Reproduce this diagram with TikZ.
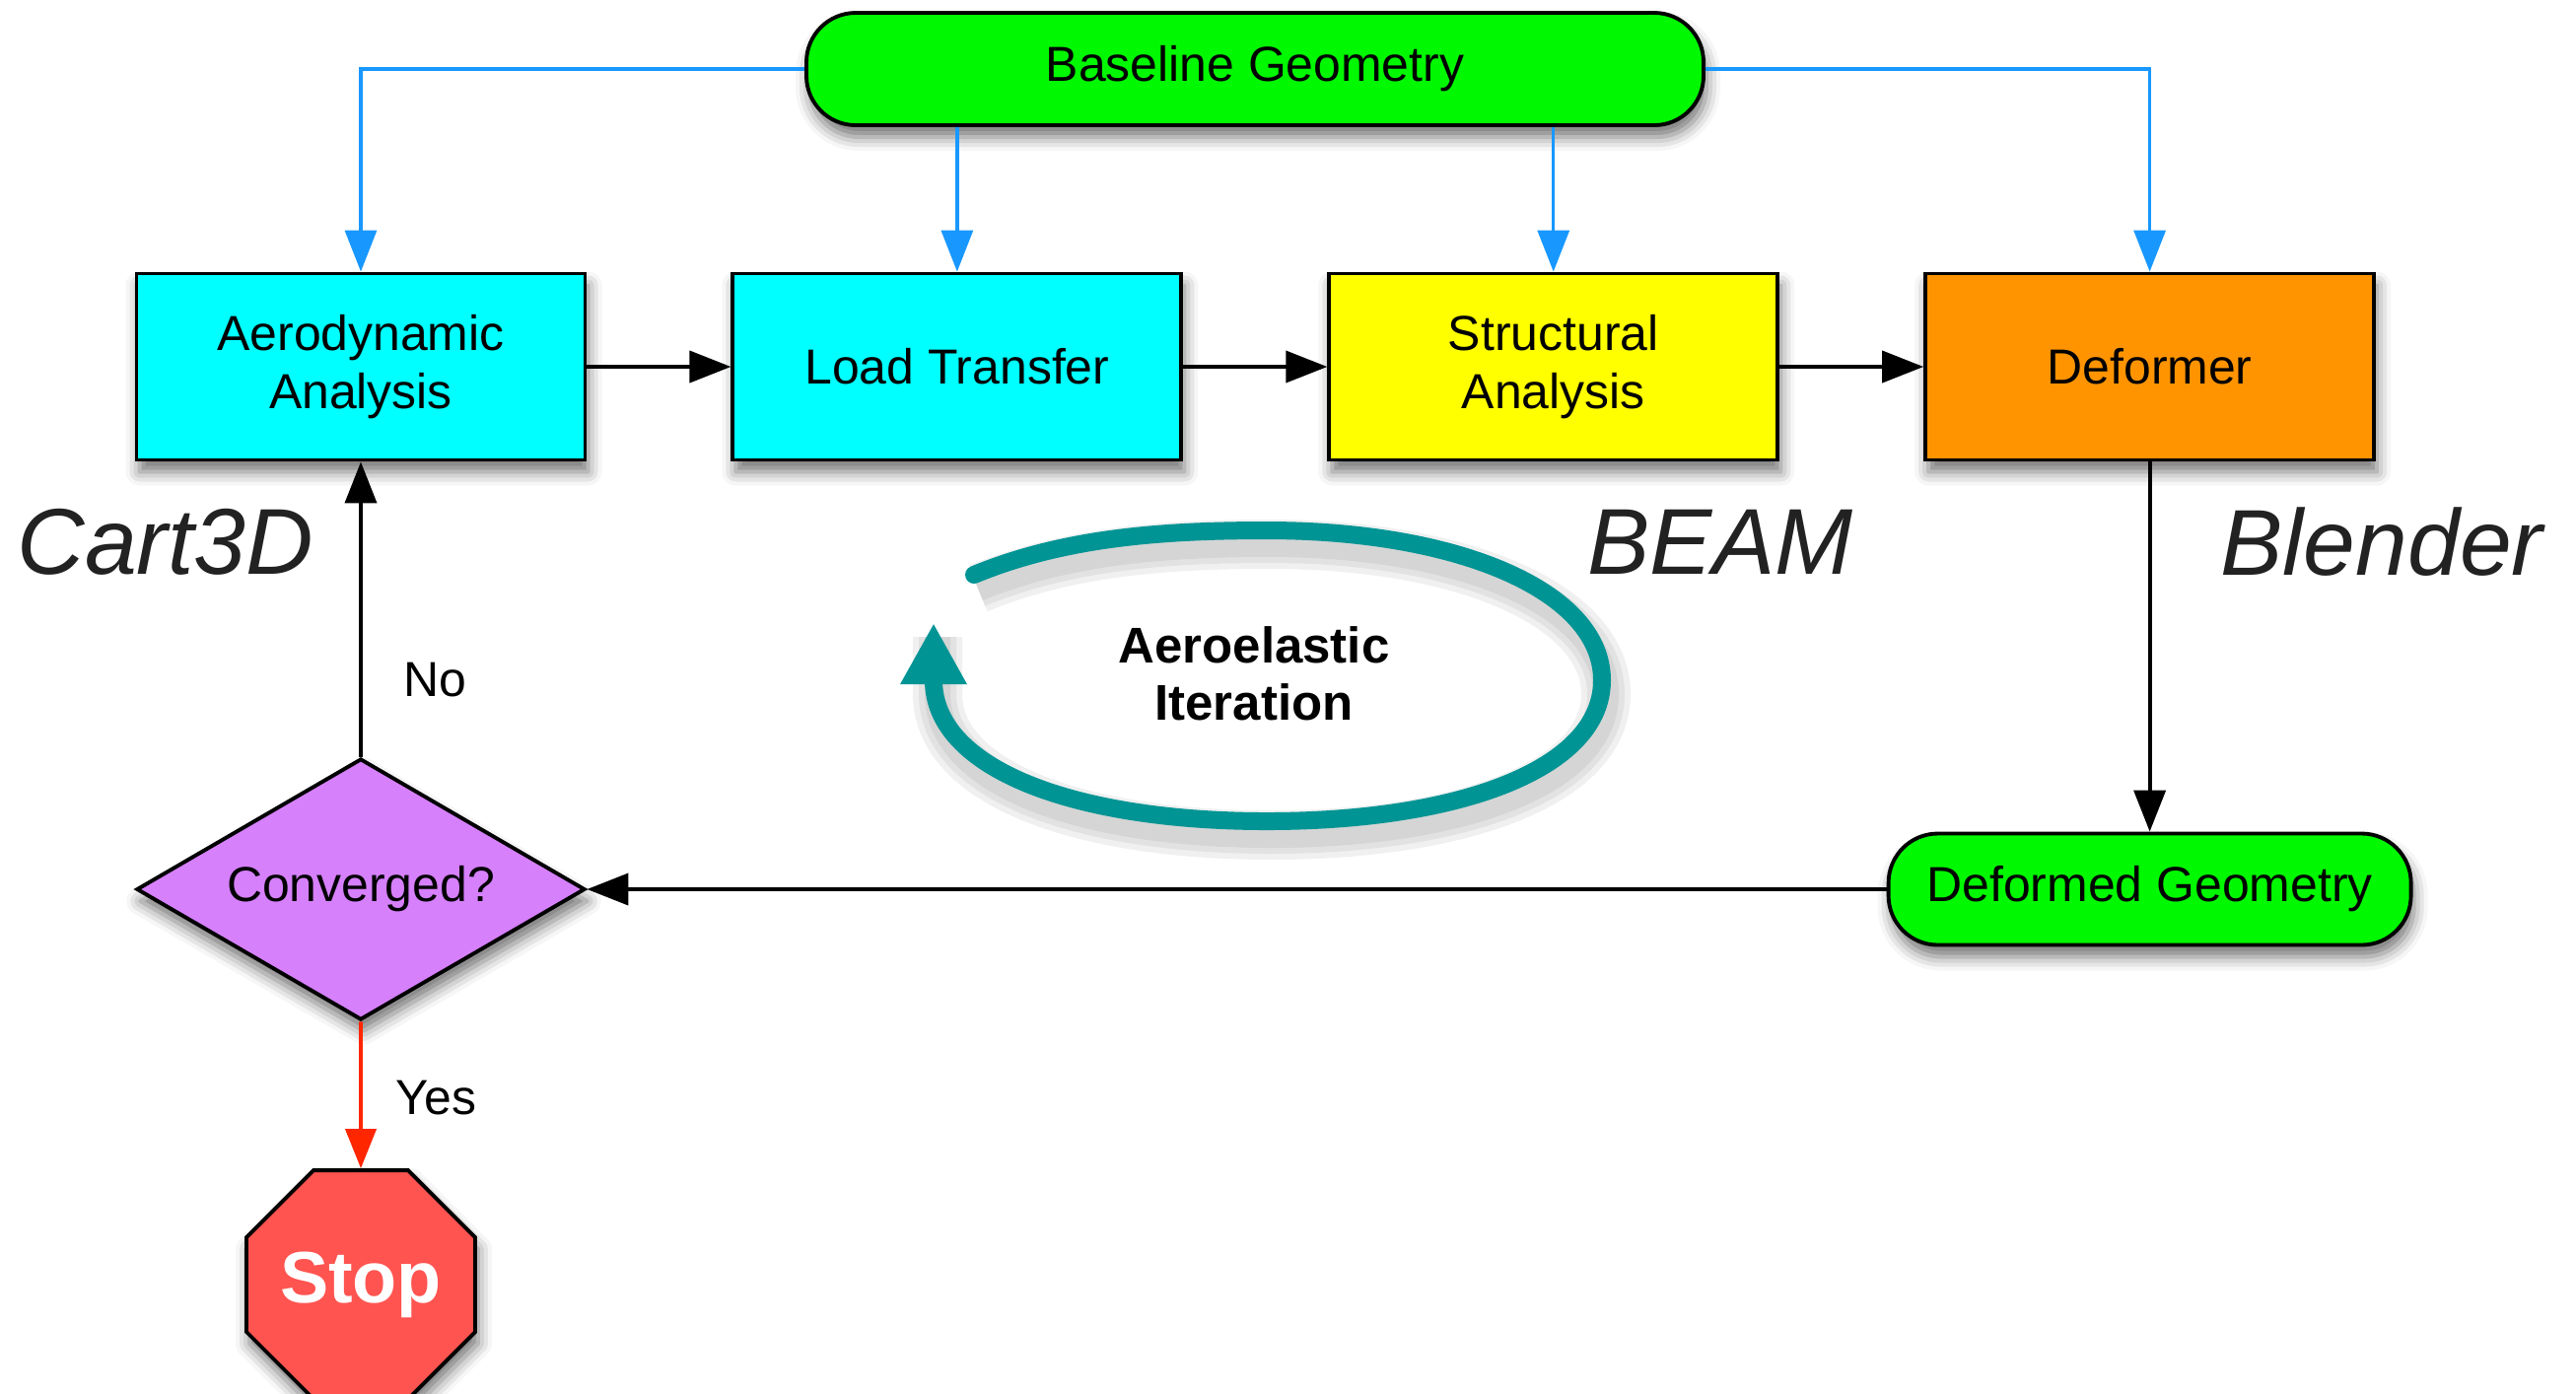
\documentclass[tikz,border=0pt]{standalone}
\usepackage{fontspec}
\setmainfont{Liberation Sans}
\usetikzlibrary{positioning, shapes.geometric, arrows.meta, shadows.blur}

\definecolor{boxcyan}{HTML}{00FFFF}
\definecolor{boxyellow}{HTML}{FFFF00}
\definecolor{boxorange}{HTML}{FF9400}
\definecolor{pillgreen}{HTML}{00F800}
\definecolor{decpurple}{HTML}{D680FC}
\definecolor{stopred}{HTML}{FF5450}
\definecolor{feedblue}{HTML}{1898FF}
\definecolor{yesred}{HTML}{FF2600}
\definecolor{iterteal}{HTML}{009494}
\definecolor{toolgray}{HTML}{222222}

\begin{document}
\begin{tikzpicture}[thick,
  every node/.style={font=\fontsize{14.2}{17}\selectfont},
  dropsh/.style={blur shadow={shadow xshift=0.03cm, shadow yshift=-0.12cm,
    shadow blur radius=0.14cm, shadow opacity=55}},
  box/.style={draw, line width=1.1pt, minimum width=4.55cm, minimum height=1.89cm,
    align=center, dropsh},
  pill/.style={draw, line width=1.1pt, fill=pillgreen, rounded corners=0.5cm,
    minimum height=1.14cm, dropsh},
  decision/.style={diamond, draw, line width=1.1pt, fill=decpurple, aspect=1.7,
    inner sep=0pt, minimum width=4.55cm, minimum height=2.65cm, dropsh},
  stopsign/.style={regular polygon, regular polygon sides=8, draw, line width=1.1pt,
    fill=stopred, inner sep=0pt, minimum size=2.51cm, text=white, dropsh,
    font=\bfseries\fontsize{21}{24}\selectfont},
  toolname/.style={text=toolgray, font=\itshape\fontsize{27}{30}\selectfont},
  flow/.style={line width=1.1pt, -{Triangle[length=0.42cm, width=0.32cm]}},
  feed/.style={feedblue, line width=0.95pt, -{Triangle[length=0.42cm, width=0.32cm]}},
  yesflow/.style={yesred, line width=1.1pt, -{Triangle[length=0.40cm, width=0.31cm]}},
  loopsh/.style={preaction={draw=black, draw opacity=0.06, line width=#1, -,
      transform canvas={shift={(0.04,-0.14)}}}},
  iterloop/.style={iterteal, line width=0.18cm,
    -{Triangle[length=0.62cm, width=0.63cm]},
    loopsh=0.50cm, loopsh=0.38cm, loopsh=0.26cm}]
  \useasboundingbox (0,0) rectangle (26.13,-14.13);

  % 输入几何
  \node[pill, minimum width=9.10cm] (base) at (12.73,-0.70) {Baseline Geometry};

  % 四个计算模块
  \node[box, fill=boxcyan] (aero) at (3.66,-3.72) {Aerodynamic\\Analysis};
  \node[box, fill=boxcyan, right=1.46cm of aero] (load) {Load Transfer};
  \node[box, fill=boxyellow, right=1.46cm of load] (struct) {Structural\\Analysis};
  \node[box, fill=boxorange, right=1.46cm of struct] (deform) {Deformer};

  % 判断与结束
  \node[decision] (conv) at (3.66,-9.02) {Converged?};
  \node[pill, minimum width=5.30cm, minimum height=1.13cm] (defgeo)
    at (deform |- conv) {Deformed Geometry};
  \node[stopsign] (stop) at (3.66,-13.03) {Stop};

  % 软件名
  \node[toolname] (cart) at (1.68,-5.50) {Cart3D};
  \node[toolname] (beam) at (17.45,-5.50) {BEAM};
  \node[toolname] (blend) at (24.16,-5.50) {Blender};

  % 蓝色输入线
  \draw[feed] (base.west) -| (aero.north);
  \draw[feed] (base.east) -| (deform.north);
  \draw[feed] (base.south -| load.north) -- (load.north);
  \draw[feed] (base.south -| struct.north) -- (struct.north);

  % 主流程
  \draw[flow] (aero.east) -- (load.west);
  \draw[flow] (load.east) -- (struct.west);
  \draw[flow] (struct.east) -- (deform.west);
  \draw[flow] (deform.south) -- (defgeo.north);
  \draw[flow] (defgeo.west) -- (conv.east);
  \draw[flow] (conv.north) -- node[right=0.3cm, pos=0.26] (no) {No} (aero.south);
  \draw[yesflow] (conv.south) -- node[right=0.22cm, pos=0.52, text=black] (yes) {Yes}
    (stop.north);

  % 迭代环
  \draw[iterloop, line cap=round] (9.88,-5.83)
    .. controls (10.80,-5.45) and (11.80,-5.38) .. (12.85,-5.38)
    .. controls (14.80,-5.38) and (16.25,-6.00) .. (16.25,-6.90)
    .. controls (16.25,-7.80) and (14.80,-8.33) .. (12.85,-8.33)
    .. controls (10.90,-8.33) and (9.47,-7.80) .. (9.47,-6.90)
    -- (9.47,-6.32);
  \node[font=\bfseries\fontsize{14.5}{16.5}\selectfont, align=center] (iter)
    at (12.72,-6.83) {Aeroelastic\\Iteration};
\end{tikzpicture}
\end{document}
